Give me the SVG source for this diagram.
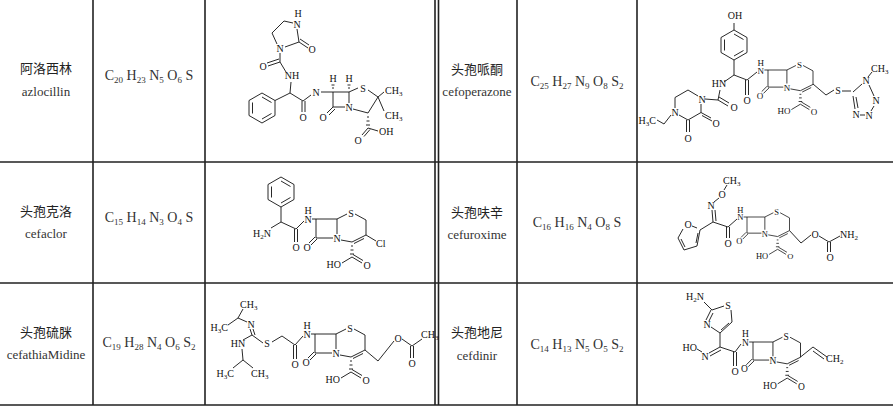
<svg xmlns="http://www.w3.org/2000/svg" xmlns:xlink="http://www.w3.org/1999/xlink" width="893" height="412" viewBox="0 0 893 412">
<style>
.g{stroke:#222;stroke-width:1.6;fill:none}
.b{stroke:#111;stroke-width:0.9;fill:none}
.t{font-family:"Liberation Serif",serif;font-size:10px;fill:#111;text-anchor:middle}
.e{text-anchor:end}.st{text-anchor:start}
.s{font-size:7px}
.nm{font-family:"Noto Sans CJK SC","Liberation Serif",serif;font-size:13px;fill:#222;text-anchor:middle}
.en{font-family:"Liberation Serif",serif;font-size:13px;fill:#333;text-anchor:middle}
.f{font-family:"Liberation Serif",serif;font-size:14px;fill:#333;text-anchor:middle}
.fs{font-size:9px}
</style>
<defs>
<g id="core">
<path class="b" d="M0,0H21M0,0V19M0,19H17M21,0V15M-1,18L-7,24M1,20L-5,26M21,0L31,-5M39,-5L50,1M50,1V16M50,16L36,23M48,19.5L38,24.5M25,21L36,23M35,27h2M34.5,31h3M34,35h4M36,38L26,44M36,38L46,44M37,35.5L47,41.5M0,0H-4"/>
<text class="t" x="-9" y="32">O</text>
<text class="t" x="21" y="23">N</text>
<text class="t" x="35" y="-2">S</text>
<text class="t e" x="25" y="49">HO</text>
<text class="t" x="51" y="50">O</text>
<text class="t" x="-8" y="4">N</text>
<text class="t" x="-8" y="-5">H</text>
</g>
<g id="benz">
<path class="b" d="M0,-15L13,-7.5L13,7.5L0,15L-13,7.5L-13,-7.5Z M0,-11L9.5,-5.5 M9.5,5.5L0,11 M-9.5,5.5L-9.5,-5.5"/>
</g>
</defs>

<g id="table">
<path class="g" d="M93,0V405M205,0V405M435,0V405M438.5,0V405M517,0V405M637,0V405M0,162H893M0,283H893M0,405H893"/>
</g>

<g id="azlocillin">
<text class="nm" x="46" y="73">阿洛西林</text>
<text class="en" x="46" y="96">azlocillin</text>
<text class="f" x="149" y="80">C<tspan class="fs" dy="3">20</tspan><tspan dy="-3"> H</tspan><tspan class="fs" dy="3">23</tspan><tspan dy="-3"> N</tspan><tspan class="fs" dy="3">5</tspan><tspan dy="-3"> O</tspan><tspan class="fs" dy="3">6</tspan><tspan dy="-3"> S</tspan></text>
<path class="b" d="M333,92H349M333,92V107M333,107H345M349,92V103M333,107L327,113M335,109L329,115M332,88h2M331.5,85h3M348,88h2M347.5,85h3M349,92L358,88M368,90L378,97M378,97L384,92M378,97L384,111M378,97L368,113M353,109L368,113M367,117h2M366.5,121h3M366,125h4M368,128L362,135M370,129.5L364,136.5M368,128L378,131M333,92H321M311,95L303,101M302,101V112M305,101V112M303,101L290,93M290,93L291,82M290,93L275,100.5M286,72L280,62M280,62L268,66M279,59L267,63M280,62V53M277,44L272,33L284,21L293,23M297,29L299,42M299,42L285,47M299,42L308,48M300,39L309,45"/>
<use xlink:href="#benz" href="#benz" x="262" y="108"/>
<text class="t" x="349" y="111">N</text>
<text class="t" x="323" y="121">O</text>
<text class="t" x="333" y="82">H</text>
<text class="t" x="349" y="82">H</text>
<text class="t" x="363" y="92">S</text>
<text class="t st" x="385" y="94">CH<tspan class="s" dy="2">3</tspan></text>
<text class="t st" x="385" y="119">CH<tspan class="s" dy="2">3</tspan></text>
<text class="t" x="358" y="144">O</text>
<text class="t st" x="379" y="135">OH</text>
<text class="t" x="316" y="96">N</text>
<text class="t" x="303" y="121">O</text>
<text class="t" x="292" y="79">NH</text>
<text class="t" x="263" y="70">O</text>
<text class="t" x="280" y="52">N</text>
<text class="t" x="297" y="28">N</text>
<text class="t" x="298" y="17">H</text>
<text class="t" x="312" y="53">O</text>
</g>

<g id="cefoperazone">
<text class="nm" x="477" y="74">头孢哌酮</text>
<text class="en" x="477" y="96">cefoperazone</text>
<text class="f" x="577" y="86">C<tspan class="fs" dy="3">25</tspan><tspan dy="-3"> H</tspan><tspan class="fs" dy="3">27</tspan><tspan dy="-3"> N</tspan><tspan class="fs" dy="3">9</tspan><tspan dy="-3"> O</tspan><tspan class="fs" dy="3">8</tspan><tspan dy="-3"> S</tspan><tspan class="fs" dy="3">2</tspan></text>
<use xlink:href="#core" href="#core" transform="translate(768,70) scale(0.9)"/>
<path class="b" d="M813,84L826,95L834,90M842,91L851,91M853,92L862,84M869,85L874,96M874,106L871,111M865,115L860,115M855,109L853,96M858,108L856,97M868,77L872,72M757,72L747,80M745.5,80V95M748.5,80V95M747,80L734,75M734,75V60M734,30V23M734,75L724,82M720,90L718,100M718,100L728,106M719,97L729,103M718,100L705,99M698,96L688,90L675,97.5L675,108M679,115L688,120L701,112.5L701,104M701,112.5L711,118M702,115.5L712,121M686.5,120V132M689.5,120V132M671,115L664,124L657,120"/>
<use xlink:href="#benz" href="#benz" x="734" y="45"/>
<text class="t" x="838" y="94">S</text>
<text class="t" x="866" y="84">N</text>
<text class="t" x="876" y="104">N</text>
<text class="t" x="869" y="119">N</text>
<text class="t" x="856" y="118">N</text>
<text class="t st" x="871" y="72">CH<tspan class="s" dy="2">3</tspan></text>
<text class="t" x="747" y="104">O</text>
<text class="t" x="735" y="19">OH</text>
<text class="t" x="719" y="87">HN</text>
<text class="t" x="734" y="111">O</text>
<text class="t" x="702" y="103">N</text>
<text class="t" x="675" y="116">N</text>
<text class="t" x="716" y="127">O</text>
<text class="t" x="688" y="142">O</text>
<text class="t e" x="656" y="124">H<tspan class="s" dy="2">3</tspan><tspan dy="-2">C</tspan></text>
</g>

<g id="cefaclor">
<text class="nm" x="46" y="216">头孢克洛</text>
<text class="en" x="46" y="238">cefaclor</text>
<text class="f" x="149" y="222">C<tspan class="fs" dy="3">15</tspan><tspan dy="-3"> H</tspan><tspan class="fs" dy="3">14</tspan><tspan dy="-3"> N</tspan><tspan class="fs" dy="3">3</tspan><tspan dy="-3"> O</tspan><tspan class="fs" dy="3">4</tspan><tspan dy="-3"> S</tspan></text>
<use xlink:href="#core" href="#core" x="316" y="219"/>
<path class="b" d="M366,235L376,241M304,221L296,229M294.5,229V242M297.5,229V242M296,229L281,222M281,222V207M281,222L271,228"/>
<use xlink:href="#benz" href="#benz" x="281" y="192"/>
<text class="t st" x="376" y="247">Cl</text>
<text class="t" x="296" y="251">O</text>
<text class="t e" x="271" y="237">H<tspan class="s" dy="2">2</tspan><tspan dy="-2">N</tspan></text>
</g>

<g id="cefuroxime">
<text class="nm" x="477" y="217">头孢呋辛</text>
<text class="en" x="477" y="239">cefuroxime</text>
<text class="f" x="577" y="227">C<tspan class="fs" dy="3">16</tspan><tspan dy="-3"> H</tspan><tspan class="fs" dy="3">16</tspan><tspan dy="-3"> N</tspan><tspan class="fs" dy="3">4</tspan><tspan dy="-3"> O</tspan><tspan class="fs" dy="3">8</tspan><tspan dy="-3"> S</tspan></text>
<use xlink:href="#core" href="#core" transform="translate(747,217) scale(0.85)"/>
<path class="b" d="M789.5,230.6L801,243L811,235M819,236L829,242M827.5,242V252M830.5,242V252M829,242L840,236M737,219L728,227M726.5,227V238M729.5,227V238M728,227L713,222M713,222L712,210M716,221L715,210M714,202L719,198M724,190L727,185M713,222L700,230M697,228L692,226M683,229L678,238L684,250L697,246L700,230M681,239L685,247M696,243L698,233"/>
<text class="t" x="815" y="238">O</text>
<text class="t" x="830" y="261">O</text>
<text class="t st" x="840" y="238">NH<tspan class="s" dy="2">2</tspan></text>
<text class="t" x="728" y="247">O</text>
<text class="t" x="711" y="209">N</text>
<text class="t" x="722" y="198">O</text>
<text class="t st" x="723" y="184">CH<tspan class="s" dy="2">3</tspan></text>
<text class="t" x="688" y="228">O</text>
</g>

<g id="cefathiamidine">
<text class="nm" x="46" y="337">头孢硫脒</text>
<text class="en" x="46" y="359">cefathiaMidine</text>
<text class="f" x="149" y="347">C<tspan class="fs" dy="3">19</tspan><tspan dy="-3"> H</tspan><tspan class="fs" dy="3">28</tspan><tspan dy="-3"> N</tspan><tspan class="fs" dy="3">4</tspan><tspan dy="-3"> O</tspan><tspan class="fs" dy="3">6</tspan><tspan dy="-3"> S</tspan><tspan class="fs" dy="3">2</tspan></text>
<use xlink:href="#core" href="#core" x="315" y="334"/>
<path class="b" d="M365,350L378,361L394,341M402,339L412,346M410.5,346V358M413.5,346V358M412,346L422,339M303,336L295,345M293.5,345V359M296.5,345V359M295,345L282,336L272,342M263,343L252,335M252,335L250,329M255,335L253,329M247,322L238,318M238,318L243,309M238,318L228,325M252,335L243,340M242,349L243,360M243,360L233,368M243,360L253,368"/>
<text class="t" x="398" y="342">O</text>
<text class="t" x="412" y="367">O</text>
<text class="t st" x="421" y="338">CH<tspan class="s" dy="2">3</tspan></text>
<text class="t" x="295" y="368">O</text>
<text class="t" x="267" y="347">S</text>
<text class="t" x="251" y="328">N</text>
<text class="t st" x="240" y="308">CH<tspan class="s" dy="2">3</tspan></text>
<text class="t e" x="228" y="331">H<tspan class="s" dy="2">3</tspan><tspan dy="-2">C</tspan></text>
<text class="t" x="238" y="347">HN</text>
<text class="t e" x="234" y="377">H<tspan class="s" dy="2">3</tspan><tspan dy="-2">C</tspan></text>
<text class="t st" x="251" y="377">CH<tspan class="s" dy="2">3</tspan></text>
</g>

<g id="cefdinir">
<text class="nm" x="477" y="337">头孢地尼</text>
<text class="en" x="477" y="360">cefdinir</text>
<text class="f" x="577" y="349">C<tspan class="fs" dy="3">14</tspan><tspan dy="-3"> H</tspan><tspan class="fs" dy="3">13</tspan><tspan dy="-3"> N</tspan><tspan class="fs" dy="3">5</tspan><tspan dy="-3"> O</tspan><tspan class="fs" dy="3">5</tspan><tspan dy="-3"> S</tspan><tspan class="fs" dy="3">2</tspan></text>
<use xlink:href="#core" href="#core" transform="translate(753,342) scale(0.95)"/>
<path class="b" d="M800.5,357L813,347M813,347L827,357M813,351L824,359M741,344L735,352M733.5,352V366M736.5,352V366M735,352L720,347M720,347L709,353M721,350L710,356M702,352L697,349M720,347V333M720,333L711,327M706,320L711,310M709,321L713,313M712,310L724,306M731,310L732,322L720,333M729,323L721,330M712,310L704,302"/>
<text class="t st" x="826" y="362">CH<tspan class="s" dy="2">2</tspan></text>
<text class="t" x="735" y="375">O</text>
<text class="t" x="705" y="360">N</text>
<text class="t e" x="697" y="351">HO</text>
<text class="t" x="707" y="328">N</text>
<text class="t" x="728" y="309">S</text>
<text class="t e" x="704" y="300">H<tspan class="s" dy="2">2</tspan><tspan dy="-2">N</tspan></text>
</g>
</svg>
